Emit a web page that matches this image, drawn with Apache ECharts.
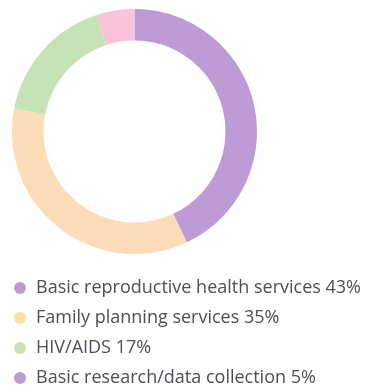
<!DOCTYPE html>
<html>
<head>
<meta charset="utf-8">
<script src="https://cdn.jsdelivr.net/npm/echarts@6/dist/echarts.min.js"></script>
<style>
  html, body { margin: 0; padding: 0; background: #ffffff; }
  #chart { width: 371px; height: 388px; }
</style>
</head>
<body>
<div id="chart"></div>
<script>
// Spending breakdown by category (percent of total)
const categories = [
  'Basic reproductive health services',
  'Family planning services',
  'HIV/AIDS',
  'Basic research/data collection'
];
const shares = [43, 35, 17, 5];
const sliceColors = ['#bc9bd6', '#fddcb8', '#c6e3b6', '#f9c3d9'];
const legendColors = ['#bc9bd6', '#fde0a6', '#c6e3b6', '#bc9bd6'];

const chart = echarts.init(document.getElementById('chart'), null, { renderer: 'canvas' });

const pieData = categories.map((name, i) => ({
  name: name,
  value: shares[i],
  itemStyle: { color: sliceColors[i] }
}));

chart.setOption({
  animation: false,
  legend: {
    orient: 'vertical',
    left: 14,
    top: 279,
    padding: 0,
    height: 109,
    icon: 'circle',
    itemWidth: 12,
    itemHeight: 12,
    itemGap: 12,
    selectedMode: false,
    data: categories.map((name, i) => ({
      name: name,
      itemStyle: { color: legendColors[i] }
    })),
    formatter: name => name + ' ' + shares[categories.indexOf(name)] + '%',
    textStyle: {
      fontFamily: 'Open Sans',
      fontSize: 18,
      lineHeight: 18,
      color: '#4f4d57',
      padding: [0, 0, 0, 5]
    }
  },
  series: [{
    type: 'pie',
    center: [134.5, 131.5],
    radius: [91, 122.5],
    startAngle: 90,
    clockwise: true,
    label: { show: false },
    labelLine: { show: false },
    emphasis: { disabled: true },
    itemStyle: { borderWidth: 0 },
    data: pieData
  }]
});
</script>
</body>
</html>
